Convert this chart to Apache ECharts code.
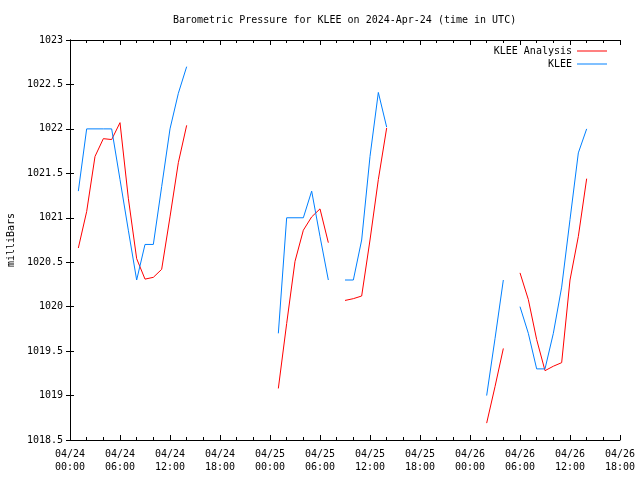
<!DOCTYPE html>
<html>
<head>
<meta charset="utf-8">
<script src="https://cdn.jsdelivr.net/npm/echarts@6/dist/echarts.min.js"></script>
<style>html,body{margin:0;padding:0;background:#fff}#c{width:640px;height:480px}</style>
</head>
<body>
<div id="c"></div>
<script>
// Hours since 2024-04-24 00:00 UTC
var hours = [];
for (var h = 0; h <= 62; h++) hours.push(h);

// KLEE observations (blue), one value per hour, null = missing
var kleeObs = [
  null,
  1021.3, 1022.0, 1022.0, 1022.0, 1022.0, 1021.43, 1020.86, 1020.3, 1020.7, 1020.7, 1021.35, 1022.0, 1022.4, 1022.7,
  null, null, null, null, null, null, null, null, null, null,
  1019.7, 1021.0, 1021.0, 1021.0, 1021.3, 1020.79, 1020.3,
  null,
  1020.3, 1020.3, 1020.75, 1021.69, 1022.41, 1022.02,
  null, null, null, null, null, null, null, null, null, null, null,
  1019.0, 1019.64, 1020.3,
  null,
  1020.0, 1019.7, 1019.3, 1019.3, 1019.7, 1020.22, 1020.98, 1021.73, 1022.0
];

// KLEE Analysis (red)
var kleeAnalysis = [
  null,
  1020.66, 1021.07, 1021.69, 1021.89, 1021.88, 1022.07, 1021.22, 1020.54, 1020.31, 1020.33, 1020.42, 1021.01, 1021.62, 1022.04,
  null, null, null, null, null, null, null, null, null, null,
  1019.08, 1019.81, 1020.51, 1020.86, 1021.01, 1021.1, 1020.72,
  null,
  1020.07, 1020.09, 1020.12, 1020.75, 1021.43, 1022.01,
  null, null, null, null, null, null, null, null, null, null, null,
  1018.69, 1019.1, 1019.53,
  null,
  1020.38, 1020.08, 1019.63, 1019.28, 1019.33, 1019.37, 1020.3, 1020.79, 1021.44
];

var xTickLabels = [
  '04/24\n00:00', '04/24\n06:00', '04/24\n12:00', '04/24\n18:00',
  '04/25\n00:00', '04/25\n06:00', '04/25\n12:00', '04/25\n18:00',
  '04/26\n00:00', '04/26\n06:00', '04/26\n12:00', '04/26\n18:00'
];

function pairs(vals) {
  return hours.map(function (h, i) { return [h, vals[i]]; });
}

var FONT = 'DejaVu Sans Mono';
var chart = echarts.init(document.getElementById('c'), null, {renderer: 'canvas'});

var baseX = {
  type: 'value', min: 0, max: 66, interval: 6,
  axisLine: {show: true, lineStyle: {color: '#000', width: 1}},
  axisTick: {show: true, inside: true, length: 5, lineStyle: {color: '#000'}},
  minorTick: {show: true, splitNumber: 3, length: 3, lineStyle: {color: '#000'}},
  splitLine: {show: false}
};
var baseY = {
  type: 'value', min: 1018.5, max: 1023, interval: 0.5,
  axisLine: {show: true, lineStyle: {color: '#000', width: 1}},
  axisTick: {show: true, inside: true, length: 4, lineStyle: {color: '#000'}},
  splitLine: {show: false}
};

chart.setOption({
  animation: false,
  backgroundColor: '#fff',
  title: {
    text: 'Barometric Pressure for KLEE on 2024-Apr-24 (time in UTC)',
    left: 168, top: 10,
    textStyle: {fontFamily: FONT, fontSize: 10, fontWeight: 'normal', color: '#000'}
  },
  legend: [
    {data: ['KLEE Analysis'], right: 28, top: 41, align: 'right', icon: 'rect', itemWidth: 30, itemHeight: 1,
     textStyle: {fontFamily: FONT, fontSize: 10, color: '#000'}},
    {data: ['KLEE'], right: 28, top: 54, align: 'right', icon: 'rect', itemWidth: 30, itemHeight: 1,
     textStyle: {fontFamily: FONT, fontSize: 10, color: '#000'}}
  ],
  grid: {left: 70, right: 20, top: 40, bottom: 40, containLabel: false, outerBoundsMode: 'none'},
  xAxis: [
    Object.assign({}, baseX, {
      position: 'bottom',
      axisLabel: {
        show: true, margin: 8, fontFamily: FONT, fontSize: 10, color: '#000', lineHeight: 13,
        formatter: function (v) { return xTickLabels[Math.round(v / 6)]; }
      }
    }),
    Object.assign({}, baseX, {position: 'top', axisLabel: {show: false}})
  ],
  yAxis: [
    Object.assign({}, baseY, {
      position: 'left',
      name: 'milliBars', nameLocation: 'middle', nameRotate: 90, nameGap: 54,
      nameTextStyle: {fontFamily: FONT, fontSize: 10, color: '#000'},
      axisLabel: {
        show: true, margin: 7, fontFamily: FONT, fontSize: 10, color: '#000',
        formatter: function (v) { return String(Math.round(v * 10) / 10); }
      }
    }),
    Object.assign({}, baseY, {position: 'right', axisLabel: {show: false}})
  ],
  series: [
    {
      name: 'KLEE Analysis', type: 'line', xAxisIndex: 0, yAxisIndex: 0,
      data: pairs(kleeAnalysis), showSymbol: false, connectNulls: false,
      lineStyle: {color: '#ff0000', width: 1}, itemStyle: {color: '#ff0000'}
    },
    {
      name: 'KLEE', type: 'line', xAxisIndex: 0, yAxisIndex: 0,
      data: pairs(kleeObs), showSymbol: false, connectNulls: false,
      lineStyle: {color: '#0080ff', width: 1}, itemStyle: {color: '#0080ff'}
    }
  ]
});
</script>
</body>
</html>
